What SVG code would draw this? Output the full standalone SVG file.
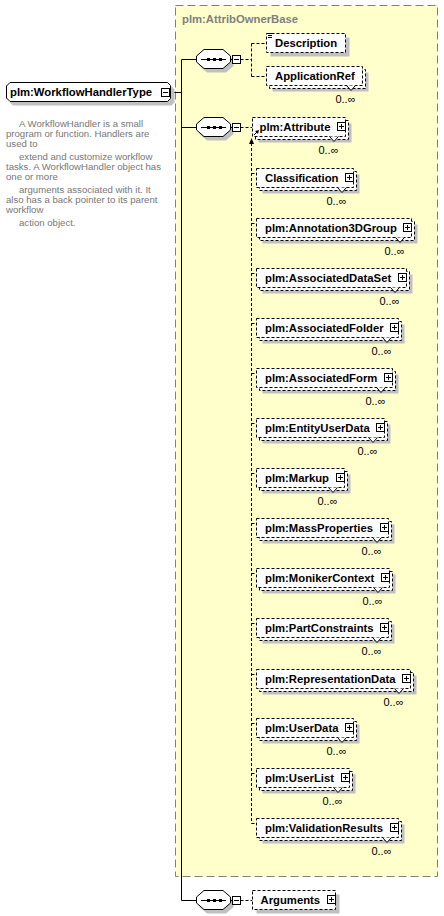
<svg xmlns="http://www.w3.org/2000/svg" width="444" height="916" viewBox="0 0 444 916">
<style>
.lbl{font-family:"Liberation Sans",Arial,sans-serif;font-weight:bold;font-size:11.3px;fill:#000}
.ttl{font-family:"Liberation Sans",Arial,sans-serif;font-weight:bold;font-size:11.3px;fill:#808080}
.occ{font-family:"Liberation Sans",Arial,sans-serif;font-size:11px;fill:#000}
.doc{font-family:"Liberation Sans",Arial,sans-serif;font-size:9.6px;fill:#777}
.sh{fill:#c0c0c0}
.box{fill:#fff;stroke:#000;stroke-dasharray:3 2}
.sbox{fill:#fff;stroke:#000}
.ic{fill:#fff;stroke:#000}
.ln{stroke:#000;fill:none}
.dl{stroke:#000;fill:none;stroke-dasharray:3 2}
.v{fill:#fff;stroke:#000}
</style>
<defs>
<polygon id="oct" points="204,-9.5 223,-9.5 230.5,-3 230.5,3 223,9.5 204,9.5 196.5,3 196.5,-3"/>
<g id="seq">
<use href="#oct" transform="translate(3,4)" class="sh"/>
<use href="#oct" fill="#fff" stroke="#000"/>
<line x1="201" y1="0.5" x2="226" y2="0.5" stroke="#000"/>
<rect x="207" y="-1" width="3" height="3"/>
<rect x="213" y="-1" width="3" height="3"/>
<rect x="219" y="-1" width="3" height="3"/>
<line x1="230.5" y1="0.5" x2="232.5" y2="0.5" stroke="#000"/>
<rect x="232.5" y="-3.5" width="8" height="8" class="ic"/>
<line x1="234" y1="0.5" x2="239" y2="0.5" stroke="#000"/>
</g>
</defs>

<g id="base">
<rect x="175.5" y="5.5" width="262" height="871" fill="#ffffcc" stroke="#808080" stroke-dasharray="8 4"/>
<text class="ttl" x="182" y="23">plm:AttribOwnerBase</text>
</g>

<g id="connectors">
<path class="ln" d="M170.5,92.5H181.5M181.5,59.5V900.5M181.5,59.5H196.5M181.5,127.5H196.5M181.5,900.5H196.5"/>
<path class="dl" d="M240.5,59.5H251.5M251.5,43.5V76.5M251.5,43.5H266.5M251.5,76.5H266.5"/>
<path class="dl" d="M240.5,127.5H252.5M240.5,900.5H252.5"/>
<path class="dl" d="M251.5,143V823.5"/>
<polygon points="251.5,138 249,144 254,144" fill="#000"/>
<path class="dl" d="M251.5,173.5H256.5M251.5,223.5H256.5M251.5,273.5H256.5M251.5,323.5H256.5M251.5,373.5H256.5M251.5,423.5H256.5M251.5,473.5H256.5M251.5,523.5H256.5M251.5,573.5H256.5M251.5,623.5H256.5M251.5,674.5H256.5M251.5,723.5H256.5M251.5,773.5H256.5M251.5,823.5H256.5"/>
</g>

<g id="root">
<polygon class="sh" points="13,86.5 171.5,86.5 174.5,89.5 174.5,102.5 171.5,105.5 13,105.5 10,102.5 10,89.5"/>
<polygon fill="#fff" stroke="#000" points="10,82.5 167.5,82.5 170.5,85.5 170.5,98.5 167.5,101.5 10,101.5 6.5,98 6.5,86"/>
<text class="lbl" x="10" y="96">plm:WorkflowHandlerType</text>
<rect class="ic" x="161.5" y="88.5" width="8" height="8"/>
<line x1="163" y1="92.5" x2="168" y2="92.5" stroke="#000"/>
</g>

<g id="root-doc" class="doc">
<text x="19" y="126.5">A WorkflowHandler is a small</text>
<text x="6" y="136.5">program or function. Handlers are</text>
<text x="6" y="146.5">used to</text>
<text x="19" y="159.5">extend and customize workflow</text>
<text x="6" y="169.5">tasks. A WorkflowHandler object has</text>
<text x="6" y="179.5">one or more</text>
<text x="19" y="192.5">arguments associated with it.  It</text>
<text x="6" y="202.5">also has a back pointer to its parent</text>
<text x="6" y="212.5">workflow</text>
<text x="19" y="225.5">action object.</text>
</g>

<g id="seq1"><use href="#seq" transform="translate(0,59)"/></g>
<g id="seq2"><use href="#seq" transform="translate(0,127)"/></g>
<g id="seq3"><use href="#seq" transform="translate(0,900)"/></g>

<g id="Description">
<rect class="sh" x="270.5" y="37.5" width="79" height="19"/>
<rect class="box" x="266.5" y="33.5" width="79" height="19"/>
<path class="ln" d="M268,33.5H273M268,35.5H272M268,37.5H272"/>
<text class="lbl" x="275" y="47">Description</text>
</g>

<g id="ApplicationRef">
<rect class="sh" x="272.5" y="72.5" width="96" height="19"/>
<rect class="box" x="269.5" y="69.5" width="96" height="19"/>
<rect class="box" x="266.5" y="66.5" width="96" height="19"/>
<polyline class="v" points="346.5,85.5 351,90.5 355.5,85.5"/>
<text class="lbl" x="275" y="80">ApplicationRef</text>
<text class="occ" x="355.5" y="103" text-anchor="end">0..∞</text>
</g>

<g id="Attribute">
<rect class="sh" x="258.5" y="123.5" width="93" height="19"/>
<rect class="box" x="255.5" y="120.5" width="93" height="19"/>
<rect class="box" x="252.5" y="117.5" width="93" height="19"/>
<polyline class="v" points="329.5,136.5 334,141.5 338.5,136.5"/>
<text class="lbl" x="259.5" y="131">plm:Attribute</text>
<line x1="254" y1="135" x2="257" y2="132" stroke="#000"/>
<polygon points="259,130 255,131 258,134" fill="#000"/>
<rect class="ic" x="337.5" y="122.5" width="8" height="8"/>
<path class="ln" d="M339,126.5H344M341.5,124V129"/>
<text class="occ" x="338.5" y="154" text-anchor="end">0..∞</text>
</g>

<g id="Classification">
<rect class="sh" x="262.5" y="174.5" width="97" height="19"/>
<rect class="box" x="259.5" y="171.5" width="97" height="19"/>
<rect class="box" x="256.5" y="168.5" width="97" height="19"/>
<polyline class="v" points="337.5,187.5 342,192.5 346.5,187.5"/>
<text class="lbl" x="265" y="182">Classification</text>
<rect class="ic" x="345.5" y="173.5" width="8" height="8"/>
<path class="ln" d="M347,177.5H352M349.5,175V180"/>
<text class="occ" x="346.5" y="205" text-anchor="end">0..∞</text>
</g>

<g id="Annotation3DGroup">
<rect class="sh" x="262.5" y="224.5" width="155" height="19"/>
<rect class="box" x="259.5" y="221.5" width="155" height="19"/>
<rect class="box" x="256.5" y="218.5" width="155" height="19"/>
<polyline class="v" points="395.5,237.5 400,242.5 404.5,237.5"/>
<text class="lbl" x="265" y="232">plm:Annotation3DGroup</text>
<rect class="ic" x="403.5" y="223.5" width="8" height="8"/>
<path class="ln" d="M405,227.5H410M407.5,225V230"/>
<text class="occ" x="404.5" y="255" text-anchor="end">0..∞</text>
</g>

<g id="AssociatedDataSet">
<rect class="sh" x="262.5" y="274.5" width="150" height="19"/>
<rect class="box" x="259.5" y="271.5" width="150" height="19"/>
<rect class="box" x="256.5" y="268.5" width="150" height="19"/>
<polyline class="v" points="390.5,287.5 395,292.5 399.5,287.5"/>
<text class="lbl" x="265" y="282">plm:AssociatedDataSet</text>
<rect class="ic" x="398.5" y="273.5" width="8" height="8"/>
<path class="ln" d="M400,277.5H405M402.5,275V280"/>
<text class="occ" x="399.5" y="305" text-anchor="end">0..∞</text>
</g>

<g id="AssociatedFolder">
<rect class="sh" x="262.5" y="324.5" width="142" height="19"/>
<rect class="box" x="259.5" y="321.5" width="142" height="19"/>
<rect class="box" x="256.5" y="318.5" width="142" height="19"/>
<polyline class="v" points="382.5,337.5 387,342.5 391.5,337.5"/>
<text class="lbl" x="265" y="332">plm:AssociatedFolder</text>
<rect class="ic" x="390.5" y="323.5" width="8" height="8"/>
<path class="ln" d="M392,327.5H397M394.5,325V330"/>
<text class="occ" x="391.5" y="355" text-anchor="end">0..∞</text>
</g>

<g id="AssociatedForm">
<rect class="sh" x="262.5" y="374.5" width="136" height="19"/>
<rect class="box" x="259.5" y="371.5" width="136" height="19"/>
<rect class="box" x="256.5" y="368.5" width="136" height="19"/>
<polyline class="v" points="376.5,387.5 381,392.5 385.5,387.5"/>
<text class="lbl" x="265" y="382">plm:AssociatedForm</text>
<rect class="ic" x="384.5" y="373.5" width="8" height="8"/>
<path class="ln" d="M386,377.5H391M388.5,375V380"/>
<text class="occ" x="385.5" y="405" text-anchor="end">0..∞</text>
</g>

<g id="EntityUserData">
<rect class="sh" x="262.5" y="424.5" width="128" height="19"/>
<rect class="box" x="259.5" y="421.5" width="128" height="19"/>
<rect class="box" x="256.5" y="418.5" width="128" height="19"/>
<polyline class="v" points="368.5,437.5 373,442.5 377.5,437.5"/>
<text class="lbl" x="265" y="432">plm:EntityUserData</text>
<rect class="ic" x="376.5" y="423.5" width="8" height="8"/>
<path class="ln" d="M378,427.5H383M380.5,425V430"/>
<text class="occ" x="377.5" y="455" text-anchor="end">0..∞</text>
</g>

<g id="Markup">
<rect class="sh" x="262.5" y="474.5" width="88" height="19"/>
<rect class="box" x="259.5" y="471.5" width="88" height="19"/>
<rect class="box" x="256.5" y="468.5" width="88" height="19"/>
<polyline class="v" points="328.5,487.5 333,492.5 337.5,487.5"/>
<text class="lbl" x="265" y="482">plm:Markup</text>
<rect class="ic" x="336.5" y="473.5" width="8" height="8"/>
<path class="ln" d="M338,477.5H343M340.5,475V480"/>
<text class="occ" x="337.5" y="505" text-anchor="end">0..∞</text>
</g>

<g id="MassProperties">
<rect class="sh" x="262.5" y="524.5" width="132" height="19"/>
<rect class="box" x="259.5" y="521.5" width="132" height="19"/>
<rect class="box" x="256.5" y="518.5" width="132" height="19"/>
<polyline class="v" points="372.5,537.5 377,542.5 381.5,537.5"/>
<text class="lbl" x="265" y="532">plm:MassProperties</text>
<rect class="ic" x="380.5" y="523.5" width="8" height="8"/>
<path class="ln" d="M382,527.5H387M384.5,525V530"/>
<text class="occ" x="381.5" y="555" text-anchor="end">0..∞</text>
</g>

<g id="MonikerContext">
<rect class="sh" x="262.5" y="574.5" width="133" height="19"/>
<rect class="box" x="259.5" y="571.5" width="133" height="19"/>
<rect class="box" x="256.5" y="568.5" width="133" height="19"/>
<polyline class="v" points="373.5,587.5 378,592.5 382.5,587.5"/>
<text class="lbl" x="265" y="582">plm:MonikerContext</text>
<rect class="ic" x="381.5" y="573.5" width="8" height="8"/>
<path class="ln" d="M383,577.5H388M385.5,575V580"/>
<text class="occ" x="382.5" y="605" text-anchor="end">0..∞</text>
</g>

<g id="PartConstraints">
<rect class="sh" x="262.5" y="624.5" width="132" height="19"/>
<rect class="box" x="259.5" y="621.5" width="132" height="19"/>
<rect class="box" x="256.5" y="618.5" width="132" height="19"/>
<polyline class="v" points="372.5,637.5 377,642.5 381.5,637.5"/>
<text class="lbl" x="265" y="632">plm:PartConstraints</text>
<rect class="ic" x="380.5" y="623.5" width="8" height="8"/>
<path class="ln" d="M382,627.5H387M384.5,625V630"/>
<text class="occ" x="381.5" y="655" text-anchor="end">0..∞</text>
</g>

<g id="RepresentationData">
<rect class="sh" x="262.5" y="675.5" width="154" height="19"/>
<rect class="box" x="259.5" y="672.5" width="154" height="19"/>
<rect class="box" x="256.5" y="669.5" width="154" height="19"/>
<polyline class="v" points="394.5,688.5 399,693.5 403.5,688.5"/>
<text class="lbl" x="265" y="683">plm:RepresentationData</text>
<rect class="ic" x="402.5" y="674.5" width="8" height="8"/>
<path class="ln" d="M404,678.5H409M406.5,676V681"/>
<text class="occ" x="403.5" y="706" text-anchor="end">0..∞</text>
</g>

<g id="UserData">
<rect class="sh" x="262.5" y="724.5" width="97" height="19"/>
<rect class="box" x="259.5" y="721.5" width="97" height="19"/>
<rect class="box" x="256.5" y="718.5" width="97" height="19"/>
<polyline class="v" points="337.5,737.5 342,742.5 346.5,737.5"/>
<text class="lbl" x="265" y="732">plm:UserData</text>
<rect class="ic" x="345.5" y="723.5" width="8" height="8"/>
<path class="ln" d="M347,727.5H352M349.5,725V730"/>
<text class="occ" x="346.5" y="755" text-anchor="end">0..∞</text>
</g>

<g id="UserList">
<rect class="sh" x="262.5" y="774.5" width="93" height="19"/>
<rect class="box" x="259.5" y="771.5" width="93" height="19"/>
<rect class="box" x="256.5" y="768.5" width="93" height="19"/>
<polyline class="v" points="333.5,787.5 338,792.5 342.5,787.5"/>
<text class="lbl" x="265" y="782">plm:UserList</text>
<rect class="ic" x="341.5" y="773.5" width="8" height="8"/>
<path class="ln" d="M343,777.5H348M345.5,775V780"/>
<text class="occ" x="342.5" y="805" text-anchor="end">0..∞</text>
</g>

<g id="ValidationResults">
<rect class="sh" x="262.5" y="824.5" width="142" height="19"/>
<rect class="box" x="259.5" y="821.5" width="142" height="19"/>
<rect class="box" x="256.5" y="818.5" width="142" height="19"/>
<polyline class="v" points="382.5,837.5 387,842.5 391.5,837.5"/>
<text class="lbl" x="265" y="832">plm:ValidationResults</text>
<rect class="ic" x="390.5" y="823.5" width="8" height="8"/>
<path class="ln" d="M392,827.5H397M394.5,825V830"/>
<text class="occ" x="391.5" y="855" text-anchor="end">0..∞</text>
</g>

<g id="Arguments">
<rect class="sh" x="256.5" y="894.5" width="83" height="19"/>
<rect class="box" x="252.5" y="890.5" width="83" height="19"/>
<text class="lbl" x="260.5" y="904">Arguments</text>
<rect class="ic" x="327.5" y="895.5" width="8" height="8"/>
<path class="ln" d="M329,899.5H334M331.5,897V902"/>
</g>
</svg>
